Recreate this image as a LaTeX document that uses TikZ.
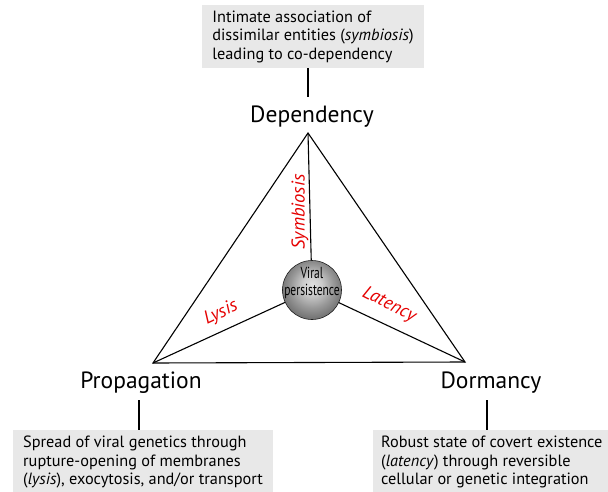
\documentclass[tikz,border=0pt]{standalone}
\usepackage{fontspec}
\setmainfont{PT Sans}
\pgfdeclareradialshading{sphereshade}{\pgfpoint{0bp}{5bp}}{%
  color(0bp)=(gray!25); color(8bp)=(gray!40); color(18bp)=(gray!80); color(28bp)=(gray!85!black); color(38bp)=(gray!65!black); color(50bp)=(gray!50!black)}
\begin{document}
\begin{tikzpicture}[x=1pt,y=-1pt,
  edge/.style={line width=1.1pt,black},
  desc/.style={fill=gray!18,inner xsep=10pt,inner ysep=4pt,align=left,font=\fontsize{16.3}{18.5}\selectfont},
  corner/.style={font=\fontsize{23.5}{26}\selectfont},
  redlab/.style={text=red!90!black,font=\fontsize{18.5}{20}\selectfont\itshape,inner sep=1pt}
]
\useasboundingbox (0,0) rectangle (608,492);
\coordinate (ap) at (308,133);
\coordinate (lv) at (153,363);
\coordinate (rv) at (465,362);
\coordinate (sc) at (312,290);
% triangle
\draw[edge,line join=miter] (ap) -- (lv) -- (rv) -- cycle;
\draw[edge] (sc) -- (ap);
\draw[edge] (sc) -- (lv);
\draw[edge] (sc) -- (rv);
% sphere
\node[circle,minimum size=59pt,inner sep=0pt,draw=gray!25!black,line width=0.6pt,
  shading=sphereshade] (vp) at (sc) {};
\node[align=center,font=\fontsize{16}{16}\selectfont,inner sep=0pt] (vpt) at (312,283)
  {\scalebox{0.72}[1]{Viral}\\[1pt]\scalebox{0.72}[1]{persistence}};
% red labels
\node[redlab,rotate=90] (sym) at (300,212) {Symbiosis};
\node[redlab,rotate=25] (lys) at (221,313) {Lysis};
\node[redlab,rotate=-27] (lat) at (389,305) {Latency};
% corner labels
\node[corner] (dep) at (312,117) {Dependency};
\node[corner] (pro) at (141,383) {Propagation};
\node[corner] (dor) at (491,383) {Dormancy};
% description boxes
\node[desc,anchor=north,minimum width=221pt,minimum height=63pt] (tbox) at (313,5)
  {Intimate association of\\dissimilar entities (\textit{symbiosis})\\leading to co-dependency};
\node[desc,anchor=north west,minimum height=64pt] (lbox) at (13,430)
  {Spread of viral genetics through\\rupture-opening of membranes\\(\textit{lysis}), exocytosis, and/or transport};
\node[desc,anchor=north west,inner xsep=8pt,minimum height=64pt] (rbox) at (373,430)
  {Robust state of covert existence\\(\textit{latency}) through reversible\\cellular or genetic integration};
% connectors
\draw[edge] (tbox.south -| ap) -- (308,97);
\draw[edge] (139,400) -- (139,430);
\draw[edge] (487,400) -- (487,430);
\end{tikzpicture}
\end{document}
